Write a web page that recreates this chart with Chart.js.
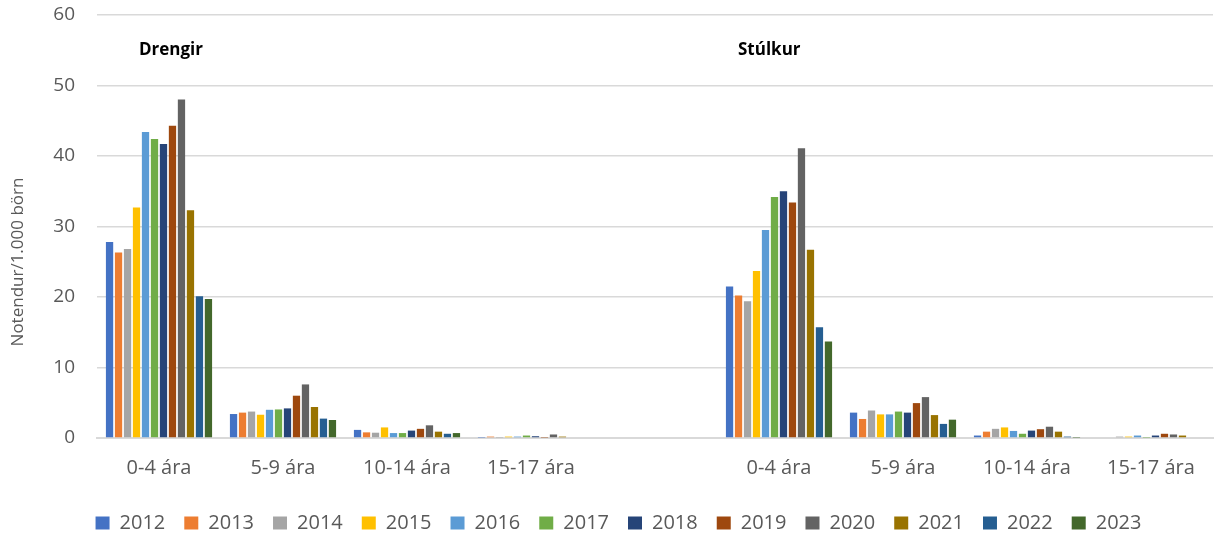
<!DOCTYPE html>
<html>
<head>
<meta charset="utf-8">
<script src="https://cdn.jsdelivr.net/npm/chart.js@4/dist/chart.umd.min.js"></script>
<style>
html,body{margin:0;padding:0;background:#fff;}
#wrap{width:1222px;height:538px;position:relative;}
</style>
</head>
<body>
<div id="wrap"><canvas id="c" width="1222" height="538"></canvas></div>
<script>
const categories = ['0-4 ára','5-9 ára','10-14 ára','15-17 ára','','0-4 ára','5-9 ára','10-14 ára','15-17 ára'];
const years = ['2012','2013','2014','2015','2016','2017','2018','2019','2020','2021','2022','2023'];
const colors = ['#4472C4','#ED7D31','#A5A5A5','#FFC000','#5B9BD5','#70AD47','#264478','#9E480E','#636363','#997300','#255E91','#43682B'];
const groupLabels = ['Drengir','Stúlkur'];
const yTitle = 'Notendur/1.000 börn';
const yTicks = [0,10,20,30,40,50,60];

// values: [Drengir 0-4, 5-9, 10-14, 15-17, (gap), Stúlkur 0-4, 5-9, 10-14, 15-17]
const v2012 = [27.8, 3.4, 1.15, 0.05, null, 21.5, 3.6, 0.35, 0];
const v2013 = [26.3, 3.6, 0.8, 0.2, null, 20.2, 2.7, 0.9, 0];
const v2014 = [26.8, 3.75, 0.75, 0.05, null, 19.4, 3.9, 1.3, 0.2];
const v2015 = [32.7, 3.3, 1.5, 0.2, null, 23.7, 3.35, 1.5, 0.2];
const v2016 = [43.4, 4.0, 0.7, 0.2, null, 29.5, 3.35, 1.0, 0.35];
const v2017 = [42.4, 4.05, 0.7, 0.35, null, 34.2, 3.75, 0.6, 0.05];
const v2018 = [41.7, 4.2, 1.05, 0.25, null, 35.0, 3.6, 1.05, 0.35];
const v2019 = [44.3, 6.0, 1.3, 0.05, null, 33.4, 4.95, 1.25, 0.6];
const v2020 = [48.0, 7.6, 1.8, 0.5, null, 41.1, 5.8, 1.6, 0.5];
const v2021 = [32.3, 4.4, 0.9, 0.2, null, 26.7, 3.25, 0.9, 0.35];
const v2022 = [20.1, 2.75, 0.6, 0, null, 15.7, 2.0, 0.2, 0];
const v2023 = [19.7, 2.55, 0.7, 0, null, 13.7, 2.6, 0.05, 0];
const seriesValues = [v2012,v2013,v2014,v2015,v2016,v2017,v2018,v2019,v2020,v2021,v2022,v2023];

const FONT = "'Open Sans', 'DejaVu Sans', sans-serif";
const GREY = '#595959';

const extraText = {
  id: 'extraText',
  afterDraw(chart) {
    const ctx = chart.ctx;
    const xs = chart.scales.x, ys = chart.scales.y;
    ctx.save();
    // group labels
    ctx.fillStyle = '#000';
    ctx.font = "bold 17px " + FONT;
    ctx.textBaseline = 'middle';
    ctx.textAlign = 'left';
    const yv = ys.getPixelForValue(55);
    ctx.fillText(groupLabels[0], xs.getPixelForValue(0) - 20, yv);
    ctx.fillText(groupLabels[1], xs.getPixelForValue(5) - 41, yv);
    // y title
    ctx.fillStyle = GREY;
    ctx.font = "17px " + FONT;
    ctx.translate(18, 262);
    ctx.rotate(-Math.PI/2);
    ctx.textAlign = 'center';
    ctx.fillText(yTitle, 0, 0);
    ctx.restore();
  }
};

new Chart(document.getElementById('c'), {
  type: 'bar',
  data: {
    labels: categories,
    datasets: years.map((y, i) => ({
      label: y,
      data: seriesValues[i],
      backgroundColor: colors[i],
      borderWidth: 0,
      categoryPercentage: 0.87,
      barPercentage: 0.81
    }))
  },
  options: {
    responsive: false,
    animation: false,
    devicePixelRatio: 1,
    layout: { padding: { left: 24, right: 9, top: 15, bottom: -5 } },
    plugins: {
      legend: {
        position: 'bottom',
        labels: {
          boxWidth: 14, boxHeight: 13, padding: 19,
          color: GREY,
          font: { family: FONT, size: 20 }
        }
      },
      tooltip: { enabled: false },
      title: { display: false }
    },
    scales: {
      x: {
        grid: { display: false, drawTicks: false },
        border: { display: true, color: '#d9d9d9', width: 2 },
        ticks: { color: GREY, font: { family: FONT, size: 20 }, padding: 18, maxRotation: 0, autoSkip: false },
        afterFit(scale) { scale.height = 56; scale.paddingLeft = 0; scale.paddingRight = 0; }
      },
      y: {
        min: 0, max: 60,
        afterBuildTicks(scale) { scale.ticks = yTicks.map(v => ({ value: v })); },
        grid: { color: '#d9d9d9', lineWidth: 1.5, drawTicks: false },
        border: { display: false },
        ticks: { color: GREY, font: { family: FONT, size: 19 }, padding: 22 },
        afterFit(scale) { scale.width = 73; scale.paddingTop = 0; scale.paddingBottom = 0; }
      }
    }
  },
  plugins: [extraText]
});
</script>
</body>
</html>
